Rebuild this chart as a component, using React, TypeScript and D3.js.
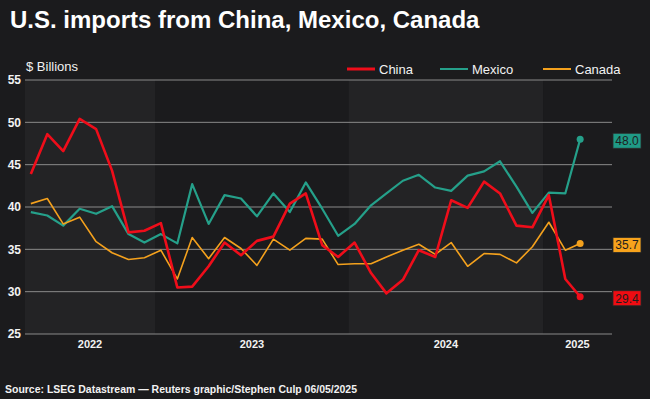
import React, { useEffect } from "react";
import * as d3 from "d3";

// monthly US imports, $ billions
const months = [
  "2022-05", "2022-06", "2022-07", "2022-08", "2022-09", "2022-10", "2022-11", "2022-12",
  "2023-01", "2023-02", "2023-03", "2023-04", "2023-05", "2023-06", "2023-07", "2023-08",
  "2023-09", "2023-10", "2023-11", "2023-12",
  "2024-01", "2024-02", "2024-03", "2024-04", "2024-05", "2024-06", "2024-07", "2024-08",
  "2024-09", "2024-10", "2024-11", "2024-12",
  "2025-01", "2025-02", "2025-03",
];
const china = [
  43.9, 48.6, 46.6, 50.4, 49.2, 44.3, 37.0, 37.2,
  38.1, 30.5, 30.6, 33.0, 35.8, 34.3, 36.0, 36.5,
  40.4, 41.6, 35.5, 34.1,
  35.8, 32.2, 29.8, 31.4, 34.9, 34.1, 40.8, 39.9,
  43.0, 41.6, 37.8, 37.6,
  41.4, 31.5, 29.4,
];
const mexico = [
  39.4, 39.0, 37.8, 39.8, 39.2, 40.1, 36.8, 35.8,
  36.8, 35.7, 42.7, 38.0, 41.4, 41.0, 38.9, 41.6,
  39.4, 42.9, 39.8, 36.6,
  38.0, 40.2, 41.6, 43.1, 43.8, 42.3, 41.9, 43.7,
  44.2, 45.4, 42.4, 39.3,
  41.7, 41.6, 48.0,
];
const canada = [
  40.4, 41.0, 38.0, 38.8, 35.9, 34.6, 33.8, 34.0,
  34.9, 31.5, 36.4, 33.9, 36.4, 35.1, 33.1, 36.2,
  34.9, 36.3, 36.2, 33.2,
  33.3, 33.3, 34.1, 34.9, 35.6, 34.4, 35.8, 33.0,
  34.5, 34.4, 33.4, 35.3,
  38.2, 34.9, 35.7,
];
const years = ["2022", "2023", "2024", "2025"];
const yTicks = [25, 30, 35, 40, 45, 50, 55];

const W = 650;
const H = 399;
const BG = "#1b1b1d";
const BAND = "#232325";
const FONT = '"Liberation Sans", Arial, Helvetica, sans-serif';

const parseDay = d3.timeParse("%Y-%m-%d");
const dates = months.map((m) => parseDay(m + "-12") as Date);

const x = d3
  .scaleTime()
  .domain([new Date(2022, 4, 1), new Date(2025, 4, 11)])
  .range([25, 612]);
const y = d3.scaleLinear().domain([25, 55]).range([334, 80]);

const series = [
  { name: "Mexico", values: mexico, color: "#25a08a", box: "#1f9a86", width: 2.2 },
  { name: "Canada", values: canada, color: "#f4a11d", box: "#f7a31c", width: 1.6 },
  { name: "China", values: china, color: "#ef0d1a", box: "#f00c12", width: 2.6 },
];
const legendOrder = ["China", "Mexico", "Canada"];
const legendX = [347, 440, 543];

export default function App() {
  useEffect(() => {
    document.body.style.margin = "0";
    document.body.style.background = BG;
  }, []);

  const [d0, d1] = x.domain();
  const bands = years.map((yr, i) => {
    const a = new Date(+yr, 0, 1);
    const b = new Date(+yr + 1, 0, 1);
    const s = a < d0 ? d0 : a;
    const e = b > d1 ? d1 : b;
    return { yr, x0: x(s), x1: x(e), shade: i % 2 === 0 };
  });

  const line = d3
    .line<number>()
    .x((_, i) => x(dates[i]))
    .y((d) => y(d));

  const lastDate = dates[dates.length - 1];

  return (
    <svg width={W} height={H} style={{ position: "absolute", left: 0, top: 0, background: BG }}>
      <rect width={W} height={H} fill={BG} />
      {bands.filter((b) => b.shade).map((b) => (
        <rect key={b.yr} x={b.x0} y={y(55)} width={b.x1 - b.x0} height={y(25) - y(55)} fill={BAND} />
      ))}
      {yTicks.map((t) => (
        <g key={t}>
          <line x1={25} x2={612} y1={y(t)} y2={y(t)} stroke="#8a8a8a" strokeWidth={1} />
          <text x={21} y={y(t)} dy="0.35em" textAnchor="end" fill="#f2f2f2"
            fontFamily={FONT} fontSize={12} fontWeight="bold">{t}</text>
        </g>
      ))}
      {bands.map((b) => (
        <text key={b.yr} x={(b.x0 + b.x1) / 2} y={348} textAnchor="middle" fill="#f2f2f2"
          fontFamily={FONT} fontSize={11} fontWeight="bold">{b.yr}</text>
      ))}
      {series.map((s) => (
        <g key={s.name}>
          <path d={line(s.values) || ""} fill="none" stroke={s.color} strokeWidth={s.width}
            strokeLinejoin="round" />
          <circle cx={x(lastDate)} cy={y(s.values[s.values.length - 1])} r={3.5} fill={s.color} />
        </g>
      ))}
      {series.map((s) => {
        const v = s.values[s.values.length - 1];
        const cy = y(v) + 1.5;
        return (
          <g key={s.name + "-lbl"}>
            <rect x={613} y={cy - 7.5} width={28} height={15} fill={s.box} stroke="#2a2a2a" strokeWidth={0.8} />
            <text x={627} y={cy} dy="0.36em" textAnchor="middle" fill="#1e1e1e"
              fontFamily={FONT} fontSize={12}>{v.toFixed(1)}</text>
          </g>
        );
      })}
      {legendOrder.map((n, i) => {
        const s = series.find((d) => d.name === n)!;
        return (
          <g key={n + "-leg"}>
            <line x1={legendX[i]} x2={legendX[i] + 28} y1={69} y2={69} stroke={s.color}
              strokeWidth={n === "China" ? 3 : 2} />
            <text x={legendX[i] + 32} y={74} fill="#f2f2f2" fontFamily={FONT} fontSize={13}>{n}</text>
          </g>
        );
      })}
      <text x={26} y={71} fill="#f2f2f2" fontFamily={FONT} fontSize={13}>$ Billions</text>
      <text x={10} y={28} fill="#ffffff" fontFamily={FONT} fontSize={24} fontWeight="bold">
        U.S. imports from China, Mexico, Canada
      </text>
      <text x={5} y={393} fill="#f2f2f2" fontFamily={FONT} fontSize={11} fontWeight="bold"
        textLength={352} lengthAdjust="spacingAndGlyphs">
        Source: LSEG Datastream — Reuters graphic/Stephen Culp 06/05/2025
      </text>
    </svg>
  );
}
